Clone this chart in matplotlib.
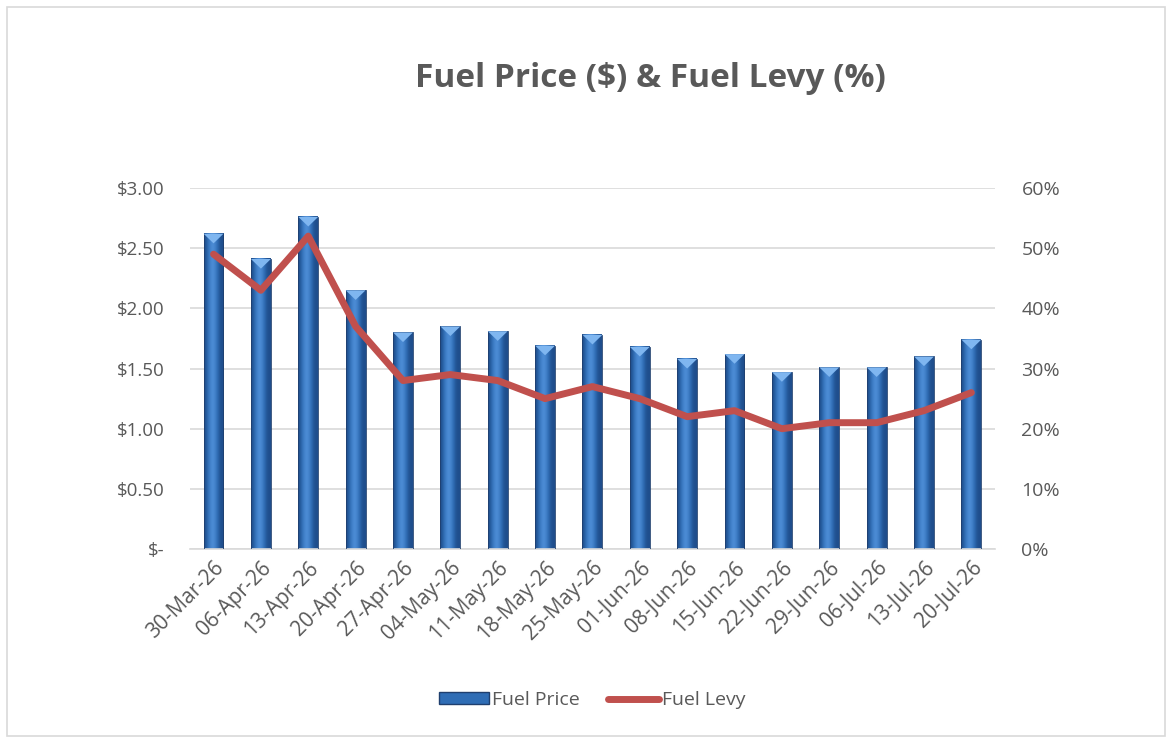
import numpy as np
import matplotlib.pyplot as plt
from matplotlib.patches import Rectangle, Polygon
from matplotlib.lines import Line2D
from matplotlib.colors import LinearSegmentedColormap

plt.rcParams['font.family'] = ['Open Sans', 'DejaVu Sans']

# 数据
dates = ['30-Mar-26', '06-Apr-26', '13-Apr-26', '20-Apr-26', '27-Apr-26', '04-May-26',
         '11-May-26', '18-May-26', '25-May-26', '01-Jun-26', '08-Jun-26', '15-Jun-26',
         '22-Jun-26', '29-Jun-26', '06-Jul-26', '13-Jul-26', '20-Jul-26']
fuel_price = [2.62, 2.41, 2.76, 2.15, 1.80, 1.85, 1.81, 1.69, 1.78, 1.68, 1.58, 1.62,
              1.47, 1.51, 1.51, 1.60, 1.74]
fuel_levy = [49, 43, 52, 37, 28, 29, 28, 25, 27, 25, 22, 23, 20, 21, 21, 23, 26]

y_ticks = [0, 0.5, 1.0, 1.5, 2.0, 2.5, 3.0]
y2_ticks = [0, 10, 20, 30, 40, 50, 60]

grey = '#595959'
bar_w = 0.42

fig = plt.figure(figsize=(11.72, 7.43), dpi=100)
fig.patches.append(Rectangle((0.006, 0.01), 0.988, 0.98, transform=fig.transFigure,
                             fill=False, edgecolor='#D9D9D9', linewidth=1.2))

ax = fig.add_axes([0.162, 0.261, 0.687, 0.486])
x = np.arange(len(dates))

# 圆柱渐变效果
grad = np.array([[0.0, 0.35, 0.6, 0.75, 0.6, 0.35, 0.05, 0.0]])
bar_cmap = LinearSegmentedColormap.from_list('b', ['#1F4E8C', '#2F6DB5', '#4F8FD8'])
for xi, v in zip(x, fuel_price):
    ax.imshow(grad, cmap=bar_cmap, aspect='auto',
              extent=(xi - bar_w / 2, xi + bar_w / 2, 0, v), zorder=2, interpolation='bicubic')
    ax.add_patch(Rectangle((xi - bar_w / 2, 0), bar_w, v, fill=False,
                           edgecolor='#1F3F6E', linewidth=0.6, zorder=3))
    ax.add_patch(Polygon([(xi - bar_w / 2, v), (xi + bar_w / 2, v), (xi, v - 0.08)],
                         closed=True, facecolor='#7FB6F0', edgecolor='none', zorder=3))

ax.set_xlim(-0.5, len(dates) - 0.5)
ax.set_ylim(0, 3.0)
ax.set_yticks(y_ticks)
ax.set_yticklabels(['$-' if t == 0 else f'${t:.2f}' for t in y_ticks])
ax.set_xticks(x)
ax.set_xticklabels(dates, rotation=45, ha='right', rotation_mode='anchor', fontsize=15)
ax.grid(axis='y', color='#D9D9D9', linewidth=1.2, zorder=0)
ax.set_axisbelow(True)
for s in ['top', 'right', 'left']:
    ax.spines[s].set_visible(False)
ax.spines['bottom'].set_color('#D9D9D9')
ax.spines['bottom'].set_linewidth(1.2)
ax.tick_params(axis='both', length=0, colors=grey)
ax.tick_params(axis='y', pad=18, labelsize=13.5)
ax.tick_params(axis='x', pad=6)

ax2 = ax.twinx()
ax2.plot(x, fuel_levy, color='#C0504D', linewidth=5, solid_capstyle='round',
         solid_joinstyle='round', zorder=5)
ax2.set_ylim(0, 60)
ax2.set_yticks(y2_ticks)
ax2.set_yticklabels([f'{t}%' for t in y2_ticks])
for s in ax2.spines.values():
    s.set_visible(False)
ax2.tick_params(axis='y', length=0, colors=grey, labelsize=14, pad=19)

fig.text(0.555, 0.895, 'Fuel Price ($) & Fuel Levy (%)', ha='center', va='center',
         fontsize=24, fontweight='bold', color=grey)

handles = [Rectangle((0, 0), 1, 1, facecolor='#2F6DB5', edgecolor='#1F3F6E'),
           Line2D([0], [0], color='#C0504D', linewidth=5, solid_capstyle='round')]
fig.legend(handles, ['Fuel Price', 'Fuel Levy'], loc='center', bbox_to_anchor=(0.505, 0.058),
           ncol=2, frameon=False, fontsize=14, labelcolor=grey, handlelength=2.6,
           handletextpad=0.15, columnspacing=1.45, handleheight=0.5)

fig.savefig('out.png', dpi=100)
